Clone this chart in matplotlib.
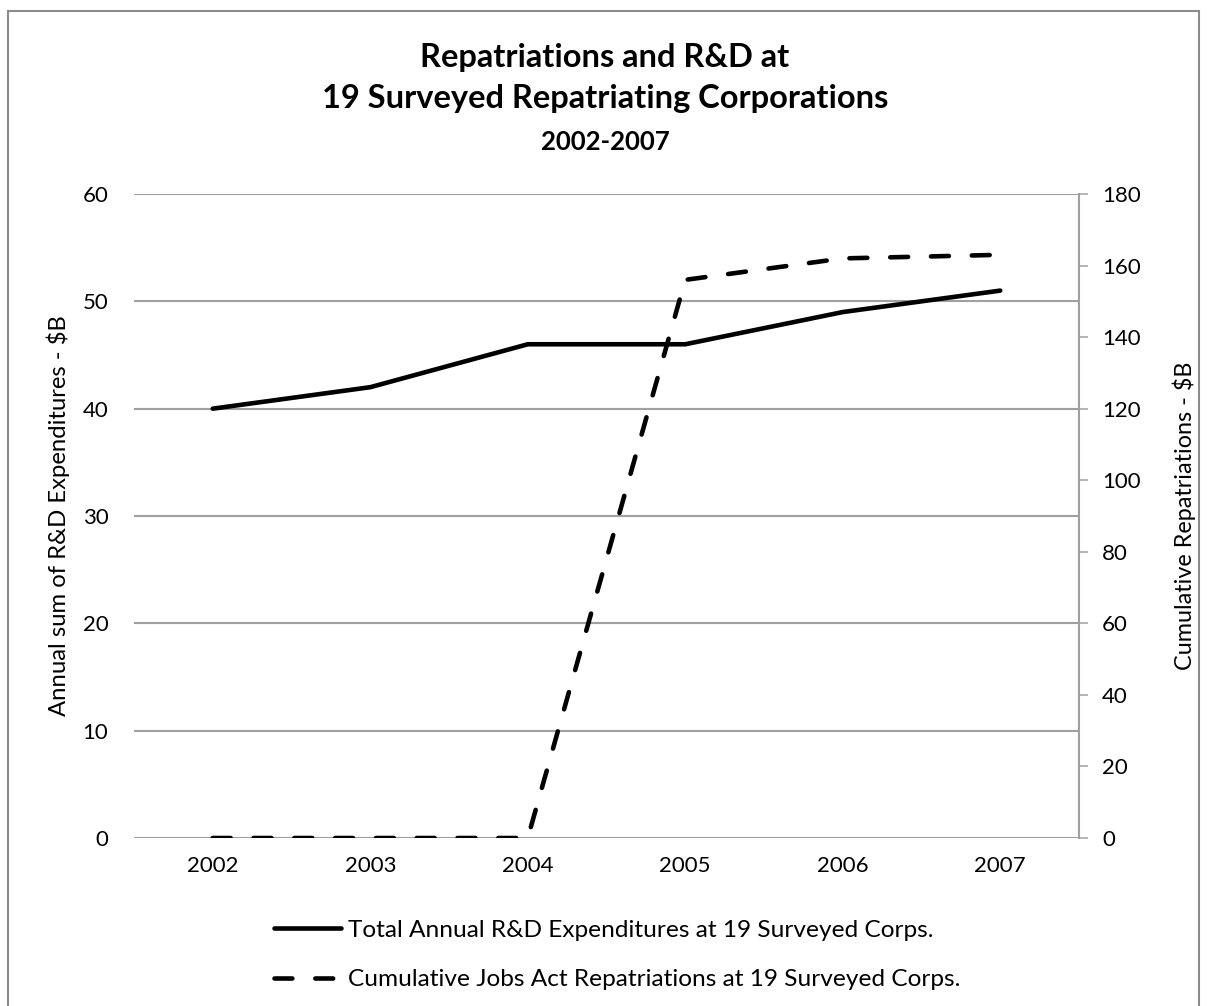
import matplotlib
matplotlib.use("Agg")
import matplotlib.pyplot as plt
from matplotlib.lines import Line2D
from matplotlib.patches import Rectangle

years = ["2002", "2003", "2004", "2005", "2006", "2007"]
rd_expenditures = [40, 42, 46, 46, 49, 51]
cumulative_repatriations = [0, 0, 0, 156, 162, 163]

left_ticks = [0, 10, 20, 30, 40, 50, 60]
right_ticks = [0, 20, 40, 60, 80, 100, 120, 140, 160, 180]

FONT = ["Lato", "DejaVu Sans"]
plt.rcParams['font.family'] = FONT

W, H = 1207, 1006
fig = plt.figure(figsize=(W / 100, H / 100), dpi=100)
fig.patch.set_facecolor("white")

# chart-area border
fig.add_artist(Rectangle((8 / W, -0.05), (1199 - 8) / W, 1 - 11 / H + 0.05,
                         transform=fig.transFigure, fill=False,
                         edgecolor="#8c8c8c", linewidth=1.5))

left, right, top, bottom = 134, 1079, 194, 838
ax = fig.add_axes([left / W, 1 - bottom / H, (right - left) / W, (bottom - top) / H])
ax2 = ax.twinx()

x = list(range(len(years)))
grid_c = "#a0a0a0"
lw = 3.3

ax.plot(x, rd_expenditures, color="black", linewidth=lw,
        solid_capstyle="round", solid_joinstyle="round", zorder=3)
ax2.plot(x, cumulative_repatriations, color="black", linewidth=lw,
         dashes=(3.9, 5.0), dash_capstyle="round", dash_joinstyle="round", zorder=3)

ax.set_xlim(-0.5, 5.5)
ax.set_ylim(0, 60)
ax2.set_ylim(0, 180)
ax.set_yticks(left_ticks)
ax2.set_yticks(right_ticks)
ax.set_xticks(x)
ax.set_xticklabels(years)

ax.yaxis.grid(True, color=grid_c, linewidth=1.5)
ax.set_axisbelow(True)

for s in ["left", "top", "right", "bottom"]:
    ax.spines[s].set_visible(False)
for s in ["left", "top", "bottom"]:
    ax2.spines[s].set_visible(False)
ax2.spines["right"].set_color(grid_c)
ax2.spines["right"].set_linewidth(1.5)

fs = 16
ax.tick_params(axis="y", length=0, pad=18.5, labelsize=fs)
ax.tick_params(axis="x", length=0, pad=13, labelsize=fs)
ax2.tick_params(axis="y", direction="out", length=6.5, width=1.1, color=grid_c,
                pad=10, labelsize=fs)

ax.set_ylabel("Annual sum of R&D Expenditures - $B", fontsize=17.2)
ax2.set_ylabel("Cumulative Repatriations - $B", fontsize=16.8)
ax.yaxis.set_label_coords((70 - left) / (right - left), 0.5)
ax2.yaxis.set_label_coords((1172 - left) / (right - left), 0.5)

cx = 605 / W
fig.text(cx, 1 - 67 / H, "Repatriations and R&D at", ha="center", va="baseline",
         fontsize=23.5, fontweight="bold")
fig.text(cx, 1 - 108 / H, "19 Surveyed Repatriating Corporations", ha="center", va="baseline",
         fontsize=23.5, fontweight="bold")
fig.text(cx, 1 - 150 / H, "2002-2007", ha="center", va="baseline",
         fontsize=18.5, fontweight="bold")

handles = [
    Line2D([], [], color="black", linewidth=lw, solid_capstyle="round"),
    Line2D([], [], color="black", linewidth=lw, dashes=(3.9, 5.0), dash_capstyle="round"),
]
labels = ["Total Annual R&D Expenditures at 19 Surveyed Corps.",
          "Cumulative Jobs Act Repatriations at 19 Surveyed Corps."]
fig.legend(handles, labels, loc="center left",
           bbox_to_anchor=(252 / W, 1 - 955 / H), frameon=False, fontsize=17.6,
           handlelength=2.75, handletextpad=0.29, labelspacing=1.15)

fig.savefig("out.png", dpi=100)
